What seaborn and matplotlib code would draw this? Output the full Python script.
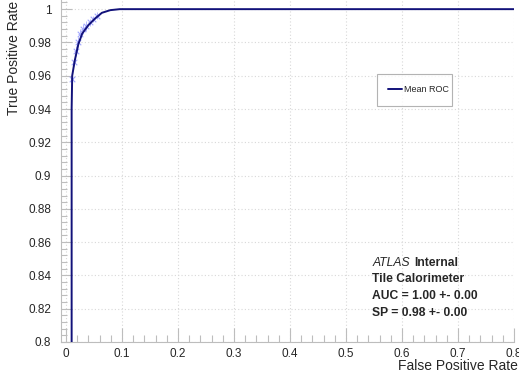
import numpy as np
import pandas as pd
import matplotlib
matplotlib.use("Agg")
import matplotlib.pyplot as plt
import seaborn as sns
from matplotlib.ticker import MultipleLocator

# Mean ROC curve
fpr = [0.010, 0.010, 0.011, 0.0155, 0.022, 0.029, 0.040, 0.052, 0.064, 0.079, 0.096, 0.8]
tpr = [0.0, 0.94, 0.960, 0.969, 0.979, 0.9854, 0.9904, 0.9944, 0.9978, 0.9994, 1.0, 1.0]

# Fold points (light blue crosses)
fold_fpr = [0.011, 0.014, 0.017, 0.021, 0.025, 0.030, 0.036, 0.042, 0.049, 0.056]
fold_tpr = [0.958, 0.968, 0.975, 0.980, 0.985, 0.988, 0.990, 0.992, 0.994, 0.996]
fold_err = [0.002, 0.002, 0.003, 0.003, 0.003, 0.003, 0.003, 0.002, 0.002, 0.002]

info_lines = ["Tile Calorimeter", "AUC = 1.00 +- 0.00", "SP = 0.98 +- 0.00"]

sns.set_style("white")
plt.rcParams['font.family'] = ['Liberation Sans', 'DejaVu Sans']

fig = plt.figure(figsize=(5.19, 3.78), dpi=100)
ax = fig.add_axes([61 / 519, 1 - 342 / 378, (514 - 61) / 519, 342 / 378])

mean_df = pd.DataFrame({"fpr": fpr, "tpr": tpr})
fold_df = pd.DataFrame({"fpr": fold_fpr, "tpr": fold_tpr})

ax.errorbar(fold_fpr, fold_tpr, xerr=fold_err, yerr=fold_err, fmt="none",
            ecolor="#b4b8ff", elinewidth=0.7, zorder=2)
sns.scatterplot(data=fold_df, x="fpr", y="tpr", marker="x", color="#a4a8ff",
                s=16, linewidth=0.8, ax=ax, zorder=3)
sns.lineplot(data=mean_df, x="fpr", y="tpr", color="#12127a", linewidth=1.4,
             sort=False, estimator=None, ax=ax, label="Mean ROC", zorder=4)

ax.set_xlim(-0.009, 0.8)
ax.set_ylim(0.8, 1.0055)

ax.xaxis.set_minor_locator(MultipleLocator(0.02))
ax.yaxis.set_minor_locator(MultipleLocator(0.004))
ax.set_xticks(np.arange(0, 0.81, 0.1))
ax.set_xticklabels(["0", "0.1", "0.2", "0.3", "0.4", "0.5", "0.6", "0.7", "0.8"])
ax.set_yticks(np.arange(0.8, 1.001, 0.02))
ax.set_yticklabels(["0.8", "0.82", "0.84", "0.86", "0.88", "0.9", "0.92", "0.94",
                    "0.96", "0.98", "1"])

ax.grid(True, which="major", color="#d8d8d8", linestyle=(0, (1, 2)), linewidth=0.8)
ax.tick_params(which="both", direction="in", color="#bdbdbd", labelsize=8.5,
               top=False, right=False, left=True, bottom=True)
ax.tick_params(axis="y", which="major", length=8, width=0.8, pad=7)
ax.tick_params(axis="y", which="minor", length=4, width=0.8)
ax.tick_params(axis="x", which="major", length=10, width=0.8, pad=4)
ax.tick_params(axis="x", which="minor", length=5, width=0.8)

for side in ["top", "right"]:
    ax.spines[side].set_visible(False)
for side in ["left", "bottom"]:
    ax.spines[side].set_color("#bdbdbd")
    ax.spines[side].set_linewidth(0.8)

ax.set_xlabel("")
ax.set_ylabel("")
fig.text(518 / 519, 1 - 366 / 378, "False Positive Rate", ha="right", va="center", fontsize=10)
fig.text(14 / 519, 1 - 1 / 378, "True Positive Rate", ha="center", va="top",
         rotation=90, fontsize=10)

leg = ax.legend(loc="center", bbox_to_anchor=(372 / 519, 1 - 107 / 378, 85 / 519, 34 / 378),
                bbox_transform=fig.transFigure, mode="expand", fontsize=6.5, frameon=True,
                fancybox=False, borderpad=1.3, handlelength=1.55, handletextpad=0.2)
leg.get_frame().set_edgecolor("#a0a0a0")
leg.get_frame().set_linewidth(0.8)

fig.text(373 / 519, 1 - 262.7 / 378, "ATLAS", style="italic", fontsize=8.7, va="center")
fig.text(414 / 519, 1 - 262.7 / 378, "Internal", weight="bold", fontsize=8.7, va="center")
for i, line in enumerate(info_lines):
    fig.text(372 / 519, 1 - (279.5 + 16.7 * i) / 378, line, weight="bold", fontsize=8.7,
             va="center")

fig.savefig("out.png", dpi=100)
